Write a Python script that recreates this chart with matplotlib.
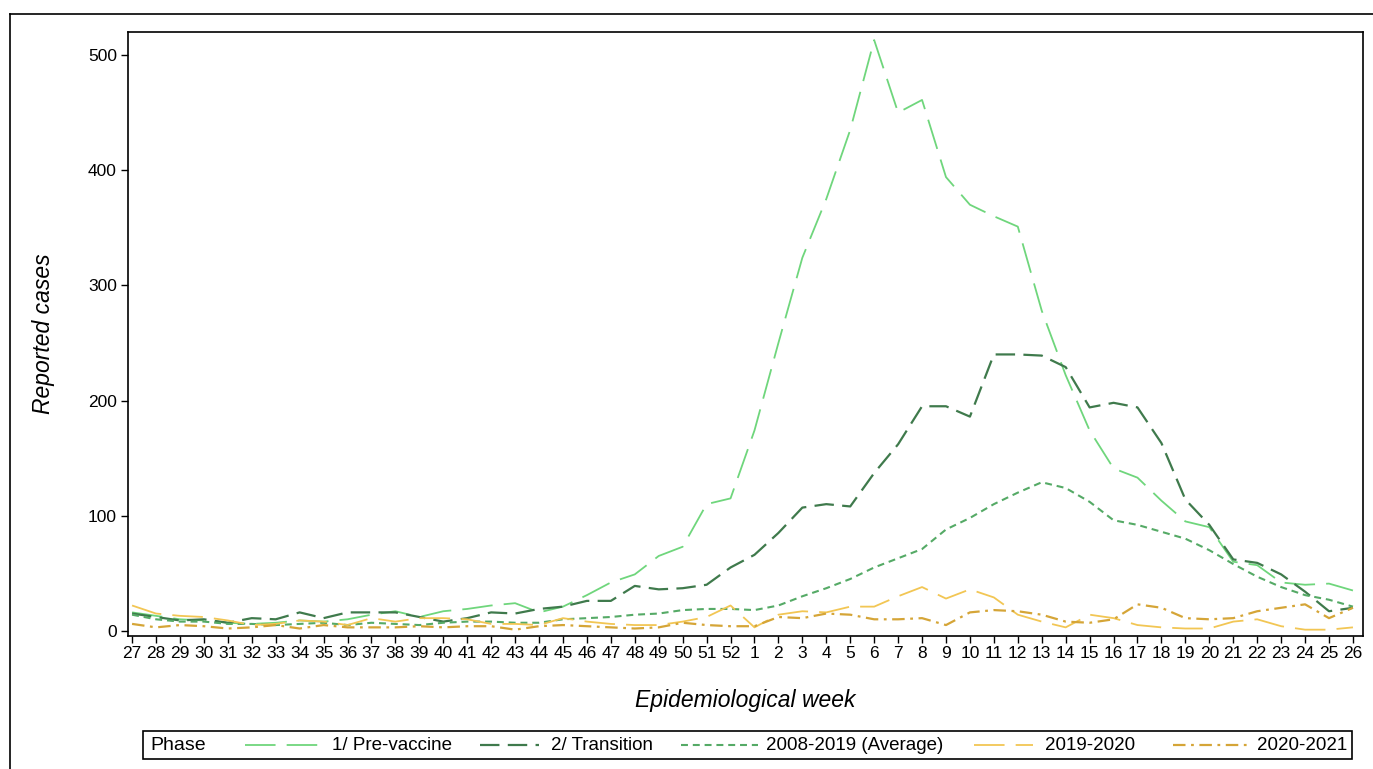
import numpy as np
import matplotlib.pyplot as plt
from matplotlib.lines import Line2D
from matplotlib.patches import Rectangle

plt.rcParams['font.family'] = ['Liberation Sans', 'DejaVu Sans']
plt.rcParams['lines.scale_dashes'] = False

# epidemiological weeks 27..52 then 1..26
weeks = [str(w) for w in list(range(27, 53)) + list(range(1, 27))]

pre_vaccine = [16, 13, 10, 9, 7, 6, 7, 9, 8, 10, 14, 17, 12,
               17, 19, 22, 24, 16, 21, 31, 42, 49, 65, 73, 110, 115,
               174, 250, 324, 375, 435, 513, 450, 461, 394, 370, 360, 351, 278,
               222, 174, 141, 133, 113, 95, 90, 60, 57, 42, 40, 41, 35]
transition = [15, 12, 9, 10, 7, 11, 10, 16, 11, 16, 16, 16, 12,
              8, 11, 16, 15, 19, 21, 26, 26, 39, 36, 37, 40, 55,
              66, 85, 107, 110, 108, 137, 162, 195, 195, 186, 240, 240, 239,
              229, 194, 198, 194, 163, 114, 92, 62, 59, 49, 34, 17, 20]
average = [14, 10, 8, 8, 6, 6, 5, 6, 7, 5, 7, 6, 5,
           7, 8, 8, 7, 7, 10, 11, 12, 14, 15, 18, 19, 19,
           18, 22, 30, 37, 45, 55, 63, 71, 88, 98, 110, 120, 129,
           124, 112, 96, 92, 86, 80, 70, 58, 47, 38, 31, 27, 21]
season_1920 = [22, 15, 13, 12, 9, 5, 6, 9, 8, 5, 11, 8, 11,
               11, 10, 6, 6, 5, 11, 8, 6, 5, 5, 8, 12, 22,
               3, 14, 17, 16, 21, 21, 30, 38, 28, 36, 29, 14, 8,
               3, 14, 11, 5, 3, 2, 2, 8, 10, 4, 1, 1, 3]
season_2021 = [6, 3, 5, 4, 2, 3, 5, 2, 5, 3, 3, 3, 4,
               3, 4, 4, 1, 4, 5, 4, 3, 2, 3, 7, 5, 4,
               4, 12, 11, 15, 14, 10, 10, 11, 5, 16, 18, 17, 14,
               8, 7, 10, 23, 20, 11, 10, 11, 17, 20, 23, 11, 20]

c_pre = '#6fd67c'
c_tra = '#3f7a4c'
c_avg = '#55aa66'
c_1920 = '#f2c654'
c_2021 = '#d5a537'

styles = [
    (pre_vaccine, c_pre, 1.3, (22, 8)),
    (transition, c_tra, 1.6, (14, 6)),
    (average, c_avg, 1.5, (5, 3.5)),
    (season_1920, c_1920, 1.3, (22, 8)),
    (season_2021, c_2021, 1.6, (9, 4, 2, 4)),
]

W, H = 1373, 769
fig = plt.figure(figsize=(W / 100, H / 100), dpi=100)
ax = fig.add_axes([128 / W, 1 - 636 / H, (1363 - 128) / W, (636 - 32) / H])

x = np.arange(len(weeks))
for vals, col, lw, dash in styles:
    ax.plot(x, vals, color=col, lw=lw, dashes=dash)

ax.set_xlim(-0.17, 51.42)
ax.set_ylim(-4.5, 520)
ax.set_xticks(x)
ax.set_xticklabels(weeks, fontsize=12.5)
ax.set_yticks(range(0, 501, 100))
ax.tick_params(axis='y', labelsize=12.5, length=5, width=1, pad=3)
ax.tick_params(axis='x', length=5, width=1, pad=2)
for s in ax.spines.values():
    s.set_linewidth(1.2)

ax.set_xlabel('Epidemiological week', fontsize=16.5, style='italic', labelpad=20)
ax.set_ylabel('Reported cases', fontsize=16.5, style='italic', labelpad=24)

# outer frame
fig.add_artist(Line2D([10 / W, 1], [1 - 14 / H, 1 - 14 / H], color='black', lw=1.2))
fig.add_artist(Line2D([10 / W, 10 / W], [1 - 14 / H, 0], color='black', lw=1.2))

# legend box
fig.add_artist(Rectangle((143 / W, 1 - 759 / H), (1352 - 143) / W, 28 / H,
                         fill=False, edgecolor='black', lw=1.2))
ly = 1 - 745 / H
lfont = ['Liberation Sans Narrow', 'Liberation Sans', 'DejaVu Sans']
fig.text(150 / W, ly, 'Phase', fontsize=14, family=lfont, va='center')
entries = [
    (245, 318, 332, '1/ Pre-vaccine'),
    (480, 539, 551, '2/ Transition'),
    (681, 758, 766, '2008-2019 (Average)'),
    (974, 1033, 1045, '2019-2020'),
    (1173, 1248, 1257, '2020-2021'),
]
for (x0, x1, tx, label), (_, col, lw, dash) in zip(entries, styles):
    fig.add_artist(Line2D([x0 / W, x1 / W], [ly, ly], color=col, lw=lw, dashes=dash))
    fig.text(tx / W, ly, label, fontsize=13.5, family=lfont, va='center')

fig.savefig('out.png', dpi=100)
